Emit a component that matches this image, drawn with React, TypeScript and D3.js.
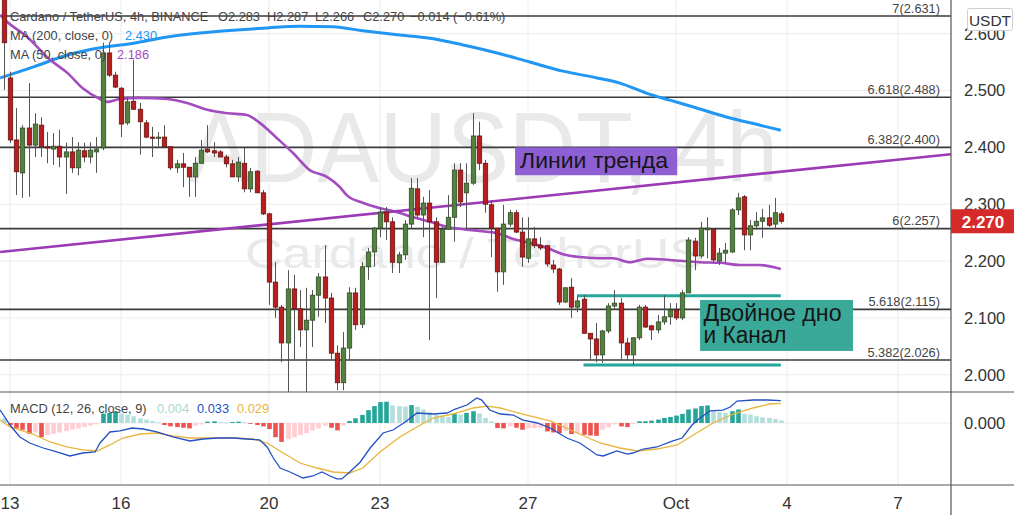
import React from 'react';
import * as d3 from 'd3';

// ---------- DATA ----------
// 4h candles, first candle: 2021-09-12 20:00
const firstCandle = new Date(2021, 8, 12, 20);
const opens = [2.670,2.522,2.413,2.355,2.434,2.404,2.439,2.401,2.397,2.402,2.383,2.392,2.364,2.394,2.383,2.392,2.399,2.566,2.527,2.504,2.443,2.481,2.467,2.443,2.418,2.416,2.418,2.401,2.364,2.371,2.365,2.348,2.372,2.397,2.394,2.392,2.383,2.371,2.348,2.372,2.327,2.358,2.320,2.283,2.163,2.119,2.056,2.151,2.116,2.079,2.096,2.140,2.172,2.135,2.038,1.986,2.047,2.144,2.089,2.190,2.216,2.258,2.286,2.269,2.197,2.211,2.265,2.327,2.281,2.302,2.269,2.198,2.256,2.277,2.360,2.320,2.337,2.420,2.372,2.299,2.258,2.181,2.265,2.285,2.251,2.205,2.239,2.228,2.227,2.193,2.186,2.128,2.154,2.119,2.133,2.073,2.063,2.035,2.077,2.121,2.126,2.056,2.035,2.065,2.119,2.086,2.079,2.093,2.102,2.114,2.100,2.144,2.235,2.209,2.255,2.256,2.200,2.214,2.216,2.290,2.313,2.246,2.262,2.270,2.276,2.265,2.283];
const highs = [2.680,2.533,2.469,2.439,2.513,2.460,2.453,2.427,2.425,2.431,2.408,2.418,2.409,2.408,2.409,2.418,2.584,2.584,2.533,2.506,2.489,2.554,2.478,2.448,2.436,2.427,2.439,2.401,2.378,2.390,2.365,2.383,2.413,2.439,2.409,2.395,2.387,2.378,2.383,2.399,2.364,2.360,2.325,2.285,2.198,2.123,2.184,2.176,2.149,2.153,2.149,2.179,2.228,2.144,2.052,2.075,2.154,2.153,2.198,2.223,2.260,2.295,2.295,2.277,2.216,2.272,2.346,2.346,2.313,2.325,2.277,2.260,2.316,2.372,2.372,2.372,2.460,2.445,2.378,2.307,2.258,2.299,2.290,2.290,2.277,2.277,2.260,2.242,2.227,2.202,2.188,2.154,2.170,2.140,2.140,2.073,2.091,2.079,2.126,2.149,2.135,2.065,2.066,2.123,2.123,2.088,2.105,2.140,2.126,2.126,2.149,2.242,2.241,2.269,2.277,2.258,2.223,2.232,2.293,2.320,2.316,2.272,2.286,2.292,2.299,2.311,2.287];
const lows = [2.501,2.408,2.316,2.311,2.313,2.383,2.383,2.372,2.369,2.365,2.318,2.355,2.351,2.374,2.372,2.355,2.395,2.524,2.504,2.418,2.439,2.466,2.387,2.416,2.383,2.401,2.399,2.360,2.355,2.330,2.313,2.313,2.372,2.390,2.383,2.383,2.365,2.348,2.339,2.321,2.321,2.320,2.281,2.123,2.100,2.022,1.970,2.026,2.049,1.970,2.049,2.102,2.091,2.026,1.973,1.973,2.026,2.079,2.082,2.167,2.190,2.242,2.237,2.179,2.179,2.202,2.258,2.277,2.242,2.061,2.135,2.197,2.255,2.234,2.295,2.255,2.334,2.360,2.285,2.207,2.146,2.158,2.260,2.249,2.190,2.197,2.223,2.219,2.190,2.179,2.123,2.126,2.100,2.110,2.073,2.026,2.022,2.021,2.073,2.114,2.026,2.026,2.017,2.061,2.082,2.061,2.073,2.088,2.088,2.096,2.096,2.144,2.184,2.205,2.205,2.198,2.193,2.197,2.214,2.281,2.219,2.219,2.255,2.241,2.260,2.258,2.266];
const closes = [2.584,2.413,2.357,2.434,2.404,2.441,2.401,2.399,2.402,2.383,2.392,2.364,2.395,2.383,2.395,2.397,2.566,2.527,2.506,2.441,2.480,2.467,2.445,2.418,2.416,2.418,2.401,2.364,2.371,2.365,2.348,2.372,2.395,2.392,2.390,2.383,2.371,2.348,2.374,2.327,2.357,2.320,2.283,2.163,2.119,2.056,2.151,2.116,2.079,2.096,2.140,2.172,2.135,2.038,1.986,2.047,2.144,2.088,2.190,2.216,2.258,2.286,2.269,2.198,2.211,2.265,2.328,2.281,2.302,2.269,2.198,2.256,2.277,2.360,2.304,2.337,2.420,2.372,2.300,2.258,2.181,2.265,2.285,2.251,2.207,2.239,2.227,2.223,2.195,2.186,2.128,2.153,2.119,2.130,2.073,2.063,2.035,2.077,2.121,2.126,2.056,2.035,2.065,2.119,2.084,2.079,2.093,2.102,2.114,2.100,2.144,2.237,2.209,2.258,2.258,2.202,2.214,2.219,2.290,2.311,2.246,2.262,2.270,2.276,2.263,2.285,2.270];

// moving averages read at [candle index, value]
const ma200 = [[-0.6,2.522],[4.7,2.541],[10.2,2.562],[15.6,2.575],[21,2.583],[26.5,2.594],[31.8,2.601],[37.2,2.606],[42.7,2.610],[48,2.613],[53.4,2.612],[58.2,2.605],[63.8,2.598],[69.1,2.592],[74.5,2.580],[80,2.566],[85.3,2.550],[90.7,2.534],[96.2,2.522],[99.9,2.513],[104.3,2.495],[108,2.483],[111.8,2.471],[117.3,2.453],[122.6,2.439],[126,2.430]];
const ma50 = [[-0.6,2.633],[0.2,2.624],[3.8,2.594],[7.5,2.554],[10.3,2.531],[12.8,2.504],[15.6,2.485],[16.7,2.480],[18.8,2.485],[22.1,2.487],[26.5,2.485],[29.7,2.478],[33,2.466],[36.2,2.460],[39.4,2.457],[41.5,2.443],[44.3,2.416],[46.9,2.390],[49.6,2.360],[52.4,2.348],[54.5,2.330],[55.6,2.316],[58.3,2.302],[61,2.293],[63.8,2.286],[66.4,2.277],[69.1,2.269],[71.9,2.260],[74.5,2.256],[77.2,2.253],[80,2.249],[82.6,2.239],[85.3,2.232],[88.1,2.223],[90.7,2.212],[93.4,2.207],[96.2,2.205],[98.8,2.205],[101.5,2.198],[104.3,2.204],[108,2.202],[112.9,2.198],[116.1,2.197],[119.4,2.193],[122.6,2.193],[126,2.186]];

// MACD (12,26,9)
const macdLine = [[-0.6,0.0192],[1.0,-0.0030],[2.6,-0.0207],[4.2,-0.0296],[6.4,-0.0370],[8.6,-0.0429],[10.7,-0.0488],[12.8,-0.0444],[14.8,-0.0429],[15.6,-0.0296],[17.2,-0.0133],[18.8,-0.0118],[20.8,-0.0074],[22.6,-0.0089],[24.8,-0.0133],[27.4,-0.0207],[30.2,-0.0266],[32.3,-0.0237],[34.6,-0.0222],[37.2,-0.0222],[39.4,-0.0237],[41.5,-0.0251],[42.7,-0.0355],[43.7,-0.0518],[44.8,-0.0666],[46.4,-0.0725],[48.5,-0.0814],[50.1,-0.0784],[51.6,-0.0725],[52.9,-0.0784],[54.0,-0.0828],[54.8,-0.0828],[56.1,-0.0725],[57.8,-0.0577],[59.4,-0.0370],[61.5,-0.0148],[63.1,-0.0104],[65.1,0.0015],[67.0,0.0148],[69.6,0.0133],[71.9,0.0148],[73.2,0.0207],[75.1,0.0266],[76.7,0.0370],[77.5,0.0340],[78.8,0.0192],[80.5,0.0133],[82.6,0.0118],[84.2,0.0044],[86.5,0.0],[88.6,-0.0074],[91.3,-0.0222],[93.4,-0.0296],[96.2,-0.0473],[97.2,-0.0488],[99.4,-0.0414],[101.1,-0.0459],[102.0,-0.0444],[103.7,-0.0385],[105.9,-0.0355],[108.5,-0.0266],[110.0,-0.0222],[111.6,-0.0030],[112.9,0.0074],[114.5,0.0178],[116.6,0.0192],[117.8,0.0237],[118.9,0.0325],[121.5,0.0340],[123.8,0.0340],[126,0.033]];
const signalLine = [[-0.6,0.0044],[1.0,-0.0059],[4.7,-0.0163],[7.5,-0.0281],[10.2,-0.0355],[12.8,-0.0399],[15.1,-0.0414],[17.2,-0.0325],[19.3,-0.0222],[22.1,-0.0163],[24.8,-0.0148],[27.4,-0.0192],[30.2,-0.0222],[33.9,-0.0222],[37.2,-0.0222],[40.4,-0.0237],[42.7,-0.0296],[45.3,-0.0444],[48.0,-0.0592],[50.8,-0.0666],[53.4,-0.0725],[56.1,-0.0740],[58.2,-0.0666],[61.0,-0.0429],[64.2,-0.0207],[67.0,-0.0059],[69.6,0.0074],[72.8,0.0133],[76.1,0.0222],[78.4,0.0251],[80.5,0.0222],[84.8,0.0118],[88.6,0.0030],[93.0,-0.0148],[96.7,-0.0296],[99.9,-0.0370],[102.7,-0.0414],[105.9,-0.0385],[109.2,-0.0325],[111.8,-0.0178],[115.0,0.0],[118.3,0.0133],[121.5,0.0222],[124.2,0.0281],[126,0.029]];
// histogram, in thousandths, one per candle
const histMilli = [7,-3,-8,-10,-16,-14,-21,-18,-16,-14,-12,-10,-8,-6,-4,-2,14,15,17,14,12,10,7,5,3,1,-3,-5,-6,-7,-8,-4,-2,2,2.5,1,0.8,1.5,2,1,-1,-3,-5,-9,-21,-28,-24,-21,-18,-15,-11,-8,-4,-7,-11,-4,3,7,12,19,25,31,31.5,26,25,24.5,26.5,24,20,16,12,10,9,14,12.5,15,17.5,14,7.5,2.5,-7.5,-8,-5,-7,-10,-8,-7.5,-7,-12.5,-14,-15,-12,-16.5,-15,-17.5,-18.5,-19,-10,-6.5,-2,-5,-6,-1.5,2.5,2.6,3.5,5,7.5,9,11,13.5,20,21.5,25,26,17.5,16.5,15,17.5,20,13.5,12.5,10,8.5,7.5,6,4];

// Fibonacci levels
const fibNames = ['7', '6.618', '6.382', '6', '5.618', '5.382'];
const fibPrices = [2.631, 2.488, 2.400, 2.257, 2.115, 2.026];
// trend line and channel [candle index, price]
const trendLine = [[-0.6, 2.216], [153.6, 2.388]];
const channelTop = [[93, 2.139], [126, 2.139]];
const channelBottom = [[94, 2.017], [126, 2.017]];

const priceTicks = [2.0, 2.1, 2.2, 2.3, 2.4, 2.5, 2.6];
const dateTicks = [new Date(2021, 8, 13), new Date(2021, 8, 16), new Date(2021, 8, 20), new Date(2021, 8, 23), new Date(2021, 8, 27), new Date(2021, 9, 1), new Date(2021, 9, 4), new Date(2021, 9, 7)];
const dateLabels = ['13', '16', '20', '23', '27', 'Oct', '4', '7'];

// ---------- LAYOUT ----------
const W = 1014, H = 515;
const PLOT_R = 951;
const PRICE_BOT = 392;
const MACD_BOT = 485;
const FONT = "'Liberation Sans', Arial, sans-serif";
const STEP = 4 * 3600 * 1000;
const tAt = (i: number) => new Date(firstCandle.getTime() + i * STEP);

export default function App() {
  const x = d3.scaleTime().domain([new Date(2021, 8, 13), new Date(2021, 9, 7)]).range([10, 898]);
  const y = d3.scaleLinear().domain([2.026, 2.631]).range([360, 16]);
  const ym = d3.scaleLinear().domain([0, 0.033]).range([423, 400.7]);
  const xi = (i: number) => x(tAt(i));

  const smooth = d3.line<number[]>().x(d => xi(d[0])).y(d => y(d[1])).curve(d3.curveMonotoneX);
  const straight = d3.line<number[]>().x(d => xi(d[0])).y(d => y(d[1]));
  const macdPath = d3.line<number[]>().x(d => xi(d[0])).y(d => ym(d[1]));

  const bodyW = 4.4;
  const up = '#53823f', upStroke = '#2f4d25';
  const dn = '#b51f1f', dnStroke = '#6d1010';

  const histColor = (i: number) => {
    const v = histMilli[i];
    const p = i > 0 ? histMilli[i - 1] : undefined;
    if (v >= 0) return p !== undefined && v > p ? '#26a69a' : '#b2dfdb';
    return p !== undefined && v < p ? '#ef5350' : '#ffcdd2';
  };

  const box1 = { x0: xi(82.9), x1: xi(109.2), y0: y(2.400), y1: y(2.351) };
  const box2 = { x0: xi(112.9), x1: xi(137.7), y0: y(2.1316), y1: y(2.0419) };
  const last = closes.length - 1;

  return (
    <svg width={W} height={H} style={{ position: 'absolute', left: 0, top: 0, background: '#fff', display: 'block' }} fontFamily={FONT}>
      <defs>
        <clipPath id="pc"><rect x={0} y={0} width={PLOT_R} height={PRICE_BOT} /></clipPath>
        <clipPath id="mc"><rect x={0} y={PRICE_BOT} width={PLOT_R} height={MACD_BOT - PRICE_BOT} /></clipPath>
      </defs>
      <rect x={0} y={0} width={W} height={H} fill="#fff" />

      {/* grid */}
      {dateTicks.map((d, k) => (
        <line key={'vg' + k} x1={x(d)} x2={x(d)} y1={0} y2={MACD_BOT} stroke="#ececec" strokeWidth={1} />
      ))}
      {priceTicks.map((p, k) => (
        <line key={'hg' + k} x1={0} x2={PLOT_R} y1={y(p)} y2={y(p)} stroke="#ececec" strokeWidth={1} />
      ))}
      <line x1={0} x2={PLOT_R} y1={ym(0)} y2={ym(0)} stroke="#ececec" strokeWidth={1} />

      {/* watermarks */}
      <text x={188} y={182} fontSize={100} fill="#e9e9e9" textLength={590} lengthAdjust="spacingAndGlyphs">ADAUSDT, 4h</text>
      <text x={245} y={268} fontSize={42} fill="#e9e9e9" textLength={459} lengthAdjust="spacingAndGlyphs">Cardano / TetherUS</text>

      <g clipPath="url(#pc)">
        {fibPrices.map((p, k) => (
          <line key={'fl' + k} x1={0} x2={PLOT_R} y1={y(p)} y2={y(p)} stroke="#3a3a3a" strokeWidth={1.6} />
        ))}
        <path d={smooth(ma200) || ''} fill="none" stroke="#2196f3" strokeWidth={3} />
        <path d={smooth(ma50) || ''} fill="none" stroke="#a24cbf" strokeWidth={2.6} />
        <path d={straight(trendLine) || ''} fill="none" stroke="#9c3ab6" strokeWidth={2.6} />
        <path d={straight(channelTop) || ''} fill="none" stroke="#26a69a" strokeWidth={3} />
        <path d={straight(channelBottom) || ''} fill="none" stroke="#26a69a" strokeWidth={3} />

        {opens.map((o, i) => {
          const c = closes[i];
          const cx = Math.round(xi(i)) + 0.5;
          const isUp = c >= o;
          const top = y(Math.max(o, c));
          const bot = y(Math.min(o, c));
          return (
            <g key={'c' + i}>
              <line x1={cx} x2={cx} y1={y(highs[i])} y2={y(lows[i])} stroke="#555" strokeWidth={1} />
              <rect x={cx - bodyW / 2} y={top} width={bodyW} height={Math.max(1.2, bot - top)}
                fill={isUp ? up : dn} stroke={isUp ? upStroke : dnStroke} strokeWidth={0.8} />
            </g>
          );
        })}

        {fibPrices.map((p, k) => (
          <text key={'ft' + k} x={940} y={y(p) - 3.5} fontSize={12.8} fill="#444" textAnchor="end">{`${fibNames[k]}(${p.toFixed(3)})`}</text>
        ))}
      </g>

      {/* annotation boxes */}
      <rect x={box1.x0} y={box1.y0} width={box1.x1 - box1.x0} height={box1.y1 - box1.y0} fill="#8d5fd3" />
      <text x={box1.x0 + 5} y={box1.y0 + 20.5} fontSize={22.5} fill="#161616" textLength={148} lengthAdjust="spacingAndGlyphs">Линии тренда</text>
      <rect x={box2.x0} y={box2.y0} width={box2.x1 - box2.x0} height={box2.y1 - box2.y0} fill="#3aa99a" />
      <text x={box2.x0 + 3.5} y={box2.y0 + 21} fontSize={23} fill="#161616" textLength={138} lengthAdjust="spacingAndGlyphs">Двойное дно</text>
      <text x={box2.x0 + 3.5} y={box2.y0 + 43} fontSize={23} fill="#161616" textLength={83} lengthAdjust="spacingAndGlyphs">и Канал</text>

      {/* MACD pane */}
      <g clipPath="url(#mc)">
        {histMilli.map((v, i) => {
          const val = v / 1000;
          const cx = Math.round(xi(i)) + 0.5;
          const y0 = ym(0), y1 = ym(val);
          return <rect key={'h' + i} x={cx - 2.3} y={Math.min(y0, y1)} width={4.6} height={Math.max(0.8, Math.abs(y1 - y0))} fill={histColor(i)} />;
        })}
        <path d={macdPath(signalLine) || ''} fill="none" stroke="#e8b43c" strokeWidth={1.3} />
        <path d={macdPath(macdLine) || ''} fill="none" stroke="#2450c4" strokeWidth={1.3} />
      </g>

      {/* pane separators & axis border */}
      <line x1={0} x2={W} y1={PRICE_BOT} y2={PRICE_BOT} stroke="#555" strokeWidth={1.2} />
      <line x1={0} x2={W} y1={MACD_BOT} y2={MACD_BOT} stroke="#555" strokeWidth={1.2} />
      <line x1={PLOT_R} x2={PLOT_R} y1={0} y2={H} stroke="#555" strokeWidth={1.2} />

      {/* price axis */}
      {priceTicks.map((p, k) => (
        <text key={'pt' + k} x={964} y={y(p) + 6} fontSize={16.5} fill="#333">{p.toFixed(3)}</text>
      ))}
      <text x={964} y={ym(0) + 6} fontSize={16.5} fill="#333">0.000</text>
      <rect x={967.5} y={8.5} width={45} height={22} rx={2} fill="#fff" stroke="#cfcfcf" />
      <text x={990} y={25.5} fontSize={15.5} fill="#333" textAnchor="middle">USDT</text>
      <rect x={PLOT_R} y={y(closes[last]) - 12} width={W - PLOT_R} height={24} fill="#d62a2a" />
      <text x={983} y={y(closes[last]) + 6.5} fontSize={17} fontWeight="bold" fill="#fff" textAnchor="middle">{closes[last].toFixed(3)}</text>

      {/* time axis */}
      {dateTicks.map((d, k) => (
        <text key={'dt' + k} x={x(d)} y={509} fontSize={17} fill="#333" textAnchor="middle">{dateLabels[k]}</text>
      ))}

      {/* legends */}
      <g fontSize={12.8} fill="#444">
        <text x={10} y={21}>Cardano / TetherUS, 4h, BINANCE</text>
        <text x={218} y={21}>{`O${opens[last].toFixed(3)}`}</text>
        <text x={267} y={21}>{`H${highs[last].toFixed(3)}`}</text>
        <text x={315} y={21}>{`L${lows[last].toFixed(3)}`}</text>
        <text x={363} y={21}>{`C${closes[last].toFixed(3)}`}</text>
        <text x={410} y={21}>−0.014 (−0.61%)</text>
        <text x={10} y={40}>MA (200, close, 0)</text>
        <text x={125} y={40} fill="#2196f3">{ma200[ma200.length - 1][1].toFixed(3)}</text>
        <text x={10} y={59}>MA (50, close, 0)</text>
        <text x={117} y={59} fill="#a24cbf">{ma50[ma50.length - 1][1].toFixed(3)}</text>
        <text x={10} y={413}>MACD (12, 26, close, 9)</text>
        <text x={157} y={413} fill="#a9d9d2">{(histMilli[last] / 1000).toFixed(3)}</text>
        <text x={197} y={413} fill="#2450c4">{macdLine[macdLine.length - 1][1].toFixed(3)}</text>
        <text x={237} y={413} fill="#e8b43c">{signalLine[signalLine.length - 1][1].toFixed(3)}</text>
      </g>
    </svg>
  );
}
